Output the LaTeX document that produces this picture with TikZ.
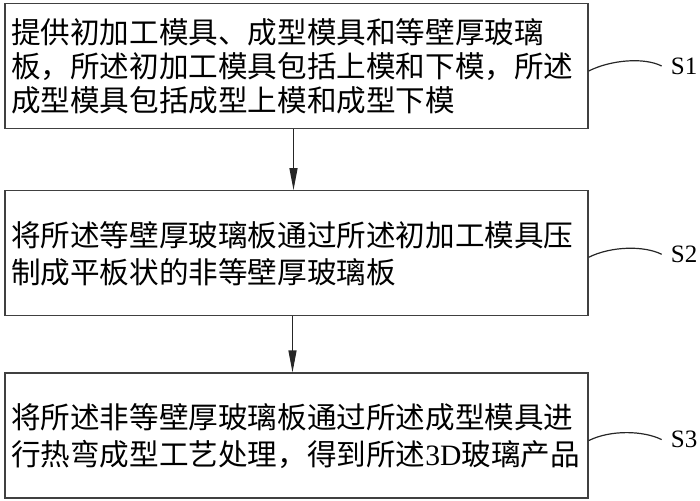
\documentclass[tikz,border=0pt]{standalone}
\usepackage{fontspec}
\setmainfont{Liberation Serif}
\newfontfamily\cjk{Noto Sans CJK SC}
\usetikzlibrary{arrows.meta,positioning}

\begin{document}
\begin{tikzpicture}[
    x=1pt, y=-1pt,
    box/.style={draw=black!75, line width=1.3pt, text width=571pt, inner xsep=6pt,
      minimum height=125pt, align=left, font=\cjk\fontsize{29.6pt}{37pt}\selectfont},
    lbl/.style={inner sep=0pt, font=\fontsize{25pt}{27pt}\selectfont},
    lead/.style={line width=1.2pt, black!85}
  ]
  \useasboundingbox (0,0) rectangle (700,500);

  \node[box, font=\cjk\fontsize{29.6pt}{34pt}\selectfont] (b1) at (296.5,66)
    {提供初加工模具、成型模具和等壁厚玻璃\\板，所述初加工模具包括上模和下模，所述\\成型模具包括成型上模和成型下模};
  \node[box, below=61pt of b1] (b2)
    {将所述等壁厚玻璃板通过所述初加工模具压\\制成平板状的非等壁厚玻璃板};
  \node[box, below=56pt of b2] (b3)
    {将所述非等壁厚玻璃板通过所述成型模具进\\行热弯成型工艺处理，得到所述{\rmfamily 3D}玻璃产品};

  \node[lbl, right=82pt of b1] (s1) {S1};
  \node[lbl, right=82pt of b2, yshift=-1pt] (s2) {S2};
  \node[lbl, right=82pt of b3, yshift=-4pt] (s3) {S3};

  \draw[line width=1.2pt, black!85, -{Triangle[length=22pt,width=8pt]}] ([xshift=-3pt]b1.south) -- ([xshift=-3pt]b2.north);
  \draw[line width=1.2pt, black!85, -{Triangle[length=22pt,width=8pt]}] ([xshift=-4pt]b2.south) -- ([xshift=-4pt]b3.north);

  \draw[lead] ([yshift=-5pt]b1.east) .. controls +(22,-11) and +(-18,-9) .. ([xshift=-9pt]s1.west);
  \draw[lead] ([yshift=-4pt]b2.east) .. controls +(22,-11) and +(-18,-9) .. ([xshift=-9pt]s2.west);
  \draw[lead] ([yshift=-5pt]b3.east) .. controls +(22,-11) and +(-18,-9) .. ([xshift=-9pt]s3.west);
\end{tikzpicture}
\end{document}
